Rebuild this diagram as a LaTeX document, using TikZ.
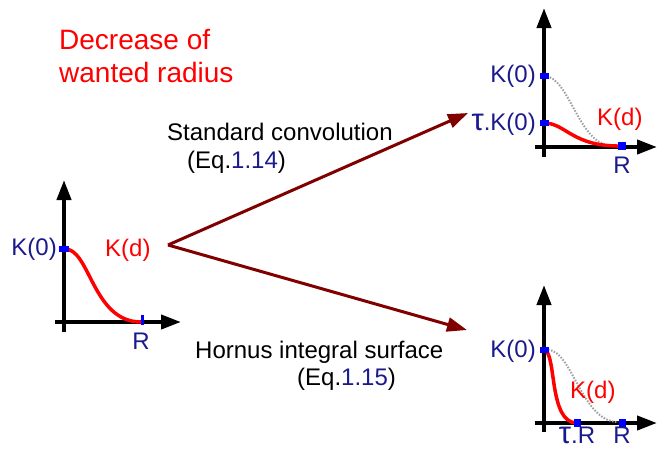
\documentclass[tikz,border=0pt]{standalone}
\usepackage{fontspec}
\setmainfont{Liberation Sans}
\usetikzlibrary{arrows.meta}
\definecolor{navylab}{RGB}{26,26,140}
\definecolor{arrowred}{RGB}{128,0,0}
\definecolor{dotgray}{RGB}{160,160,160}
\newcommand{\bigtau}{{\fontsize{31}{31}\selectfont τ}}
\tikzset{
  axis/.style={line width=4pt,-{Triangle[length=20pt,width=14pt]}},
  kcurve/.style={red,line width=3.5pt},
  ghost/.style={dotgray,line width=2pt,dash pattern=on 1.5pt off 1.5pt},
  marker/.style={fill=blue,inner sep=0pt,minimum width=#1},
  lbl/.style={inner sep=0pt,font=\fontsize{24}{29}\selectfont},
  bluelbl/.style={lbl,text=navylab},
  redlbl/.style={lbl,text=red},
  title/.style={inner sep=0pt,text=red,font=\fontsize{28}{33}\selectfont},
  flow/.style={arrowred,line width=3pt,-{Triangle[length=20pt,width=14pt]}}
}
\begin{document}
\begin{tikzpicture}[x=1pt,y=-1pt]
\useasboundingbox (0,0) rectangle (657,450);
% title
\node[title,anchor=base west] (t1) at (59,49) {Decrease of};
\node[title,anchor=base west] (t2) at (59,82) {wanted radius};
% ---------- left graph ----------
\coordinate (lyb) at (64,332); \coordinate (lyt) at (64,180);
\coordinate (lxl) at (55,322); \coordinate (lxr) at (181,322);
\draw[axis] (lyb) -- (lyt);
\draw[axis] (lxl) -- (lxr);
\coordinate (lk0) at (64,249);
\coordinate (lR) at (142,320);
\draw[kcurve] (lk0) .. controls (90,247) and (92,322) .. (141,322);
\node[marker=10pt,minimum height=6pt] (lk0m) at (lk0) {};
\node[marker=3pt,minimum height=10pt] (lRm) at (lR) {};
\node[bluelbl,anchor=base east] (lk0l) at (57,255) {K(0)};
\node[redlbl,anchor=base west] (lkd) at (105,256) {K(d)};
\node[bluelbl,anchor=base] (lRl) at (141,349) {R};
% ---------- arrows ----------
\coordinate (src) at (168,245);
\coordinate (dtop) at (468,113);
\coordinate (dbot) at (467,330);
\draw[flow] (src) -- (dtop);
\draw[flow] (src) -- (dbot);
\node[lbl,anchor=base west] (sc) at (167,140) {Standard convolution};
\node[lbl,anchor=base west] (sce) at (187,168) {(Eq.\textcolor{navylab}{1.14})};
\node[lbl,anchor=base west] (hi) at (195,358) {Hornus integral surface};
\node[lbl,anchor=base west] (hie) at (297,385) {(Eq.\textcolor{navylab}{1.15})};
% ---------- top-right graph ----------
\coordinate (ayb) at (544,157); \coordinate (ayt) at (544,8);
\coordinate (axl) at (535,147); \coordinate (axr) at (657,147);
\draw[axis] (ayb) -- (ayt);
\draw[axis] (axl) -- (axr);
\coordinate (ak0) at (544,76);
\coordinate (atk) at (544,123);
\coordinate (aR) at (622,146);
\draw[ghost] (ak0) .. controls (570,76) and (578,146) .. (613,146);
\draw[kcurve] (atk) .. controls (566,123) and (572,147) .. (aR);
\node[marker=9pt,minimum height=6pt] (ak0m) at (ak0) {};
\node[marker=9pt,minimum height=6pt] (atkm) at (atk) {};
\node[marker=8pt,minimum height=8pt] (aRm) at (aR) {};
\node[bluelbl,anchor=base east] (ak0l) at (536,82) {K(0)};
\node[bluelbl,anchor=base east] (atkl) at (536,130) {\bigtau.K(0)};
\node[redlbl,anchor=base west] (akd) at (597,125) {K(d)};
\node[bluelbl,anchor=base] (aRl) at (622,173) {R};
% ---------- bottom-right graph ----------
\coordinate (byb) at (544,432); \coordinate (byt) at (544,285);
\coordinate (bxl) at (535,423); \coordinate (bxr) at (657,423);
\draw[axis] (byb) -- (byt);
\draw[axis] (bxl) -- (bxr);
\coordinate (bk0) at (544,350);
\coordinate (btR) at (577,423);
\coordinate (bR) at (622,423);
\draw[ghost] (548,350) .. controls (572,350) and (582,422) .. (618,422);
\draw[kcurve] (bk0) .. controls (557,352) and (548,423) .. (btR);
\node[marker=9pt,minimum height=6pt] (bk0m) at (bk0) {};
\node[marker=7pt,minimum height=8pt] (btRm) at (btR) {};
\node[marker=7pt,minimum height=8pt] (bRm) at (bR) {};
\node[bluelbl,anchor=base east] (bk0l) at (536,357) {K(0)};
\node[redlbl,anchor=base west] (bkd) at (570,398) {K(d)};
\node[bluelbl,anchor=base] (btRl) at (577,443) {\bigtau.R};
\node[bluelbl,anchor=base] (bRl) at (622,443) {R};
\end{tikzpicture}
\end{document}
